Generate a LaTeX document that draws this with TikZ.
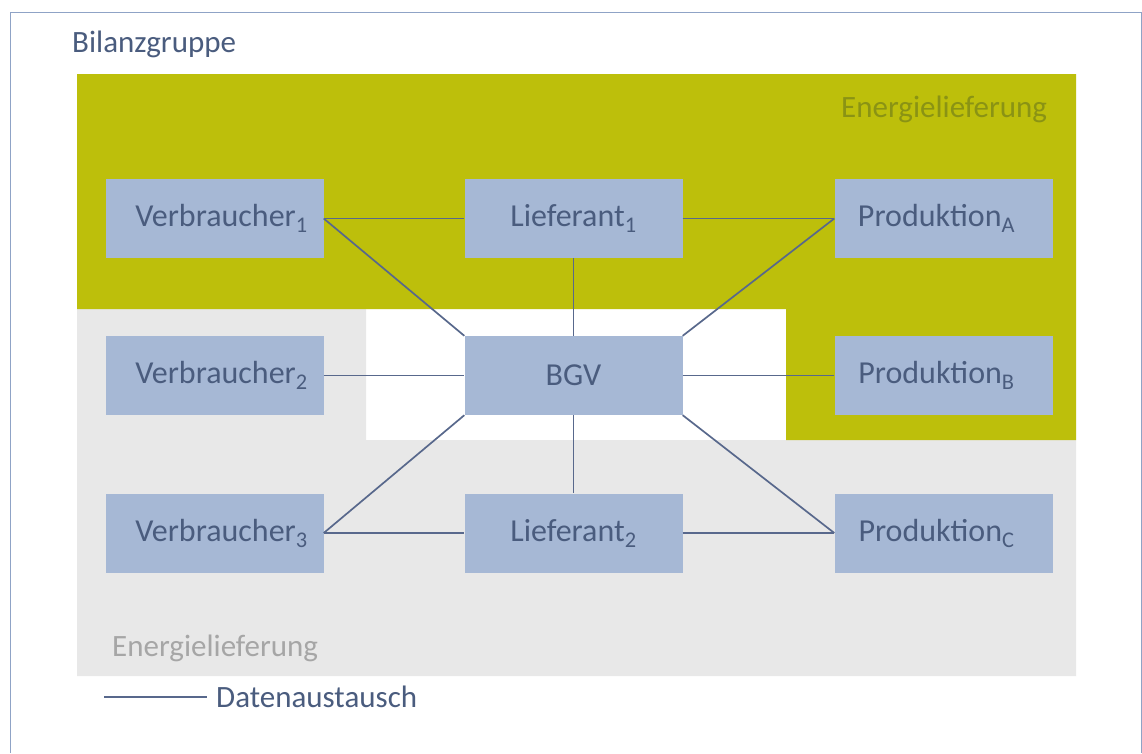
\documentclass[tikz,border=0pt]{standalone}
\usepackage{fontspec}
\setmainfont{Carlito}
\definecolor{olivegreen}{RGB}{189,191,11}
\definecolor{olivetext}{RGB}{138,147,20}
\definecolor{lightgray}{RGB}{232,232,232}
\definecolor{graytext}{RGB}{166,166,166}
\definecolor{boxblue}{RGB}{166,184,213}
\definecolor{inkblue}{RGB}{74,92,126}
\definecolor{linkblue}{RGB}{88,104,140}
\definecolor{framecol}{RGB}{143,163,198}
\newcommand{\padl}[1]{\hspace*{#1}}
\tikzset{
  entity/.style={rectangle, fill=boxblue, draw=none, minimum width=218pt,
    minimum height=79pt, inner sep=0pt, text=inkblue,
    font=\fontsize{32}{38}\selectfont},
  link/.style={draw=linkblue, line width=1.7pt},
  caption/.style={inner sep=0pt, anchor=base west, font=\fontsize{31}{38}\selectfont}
}
\begin{document}
\begin{tikzpicture}[x=1pt, y=-1pt]
  \useasboundingbox (0,0) rectangle (1142,753);
  \fill[white] (0,0) rectangle (1142,753);

  % supply areas
  \fill[lightgray] (77,309) -- (366,309) -- (366,440) -- (1076,440)
    -- (1076,676) -- (77,676) -- cycle;
  \fill[olivegreen] (77,74) -- (1076,74) -- (1076,440) -- (786,440)
    -- (786,309) -- (77,309) -- cycle;

  % outer frame of the balancing group
  \draw[framecol, line width=1pt] (10,753) -- (10,12) -- (1141,12) -- (1141,753);

  % titles
  \node[caption, text=inkblue] (title) at (72,52) {Bilanzgruppe};
  \node[caption, text=olivetext] (supplytop) at (841,117) {Energielieferung};
  \node[caption, text=graytext] (supplybottom) at (112,656) {Energielieferung};

  % market participants (consumer labels sit a little right, producer labels a little left)
  \node[entity] (v1) at (214.5,218.5) {\padl{14pt}Verbraucher\textsubscript{1}};
  \node[entity] (l1) at (573.5,218.5) {Lieferant\textsubscript{1}};
  \node[entity] (pa) at (943.5,218.5) {Produktion\textsubscript{A}\padl{14pt}};
  \node[entity] (v2) at (214.5,375.5) {\padl{14pt}Verbraucher\textsubscript{2}};
  \node[entity] (bgv) at (573.5,375.5) {BGV};
  \node[entity] (pb) at (943.5,375.5) {Produktion\textsubscript{B}\padl{14pt}};
  \node[entity] (v3) at (214.5,533) {\padl{14pt}Verbraucher\textsubscript{3}};
  \node[entity] (l2) at (573.5,533) {Lieferant\textsubscript{2}};
  \node[entity] (pc) at (943.5,533) {Produktion\textsubscript{C}\padl{14pt}};

  % data exchange
  \draw[link] (v1.east) -- (l1.west);
  \draw[link] (l1.east) -- (pa.west);
  \draw[link] (v1.east) -- (bgv.north west);
  \draw[link] (pa.west) -- (bgv.north east);
  \draw[link] (l1.south) -- (bgv.north);
  \draw[link] (v2.east) -- (bgv.west);
  \draw[link] (bgv.east) -- (pb.west);
  \draw[link] (bgv.south west) -- (v3.east);
  \draw[link] (bgv.south) -- (l2.north);
  \draw[link] (bgv.south east) -- (pc.west);
  \draw[link] (v3.east) -- (l2.west);
  \draw[link] (l2.east) -- (pc.west);

  % legend
  \coordinate (legstart) at (104,697);
  \node[caption, text=inkblue] (legtext) at (216,707) {Datenaustausch};
  \draw[link] (legstart) -- ([xshift=-9pt]legstart -| legtext.west);
\end{tikzpicture}
\end{document}
